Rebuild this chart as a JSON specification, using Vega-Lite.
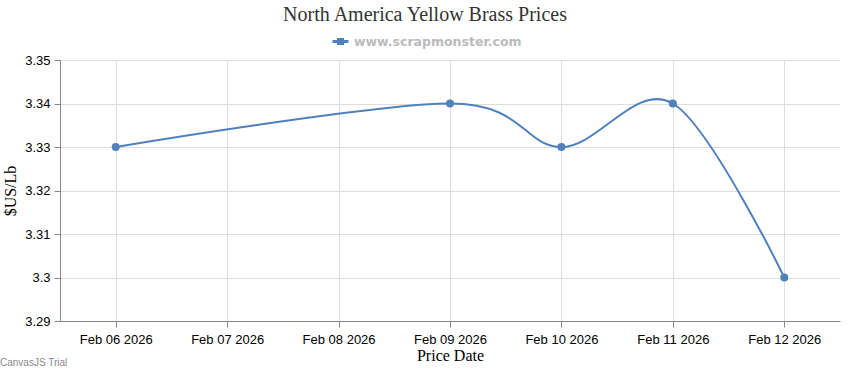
{
  "$schema": "https://vega.github.io/schema/vega-lite/v6.json",
  "width": 780,
  "height": 261,
  "autosize": {"type": "none"},
  "padding": {"left": 60, "top": 60, "right": 10, "bottom": 49},
  "background": "white",
  "title": {
    "text": "North America Yellow Brass Prices",
    "font": "Liberation Serif",
    "fontSize": 20,
    "fontWeight": "normal",
    "color": "#333333",
    "anchor": "middle",
    "dx": -25,
    "offset": 7
  },
  "data": {
    "values": [
      {"date": "2026-02-06", "price": 3.33, "series": "www.scrapmonster.com"},
      {"date": "2026-02-09", "price": 3.34, "series": "www.scrapmonster.com"},
      {"date": "2026-02-10", "price": 3.33, "series": "www.scrapmonster.com"},
      {"date": "2026-02-11", "price": 3.34, "series": "www.scrapmonster.com"},
      {"date": "2026-02-12", "price": 3.30, "series": "www.scrapmonster.com"}
    ]
  },
  "encoding": {
    "x": {
      "field": "date",
      "type": "temporal",
      "scale": {
        "type": "utc",
        "domain": [
          {"year": 2026, "month": 2, "date": 5, "hours": 12, "utc": true},
          {"year": 2026, "month": 2, "date": 12, "hours": 12, "utc": true}
        ]
      },
      "axis": {
        "title": "Price Date",
        "format": "%b %d %Y",
        "tickCount": {"interval": "day", "step": 1},
        "labelFont": "Liberation Sans",
        "labelFontSize": 13,
        "labelColor": "#000000",
        "labelPadding": 6,
        "titleFont": "Liberation Serif",
        "titleFontSize": 16,
        "titleFontWeight": "normal",
        "titleColor": "#000000",
        "titlePadding": 1,
        "domainColor": "#888888",
        "tickColor": "#888888",
        "tickSize": 6,
        "gridColor": "#dddddd",
        "labelFlush": false
      }
    },
    "y": {
      "field": "price",
      "type": "quantitative",
      "scale": {"domain": [3.29, 3.35], "nice": false, "zero": false},
      "axis": {
        "title": "$US/Lb",
        "values": [3.29, 3.30, 3.31, 3.32, 3.33, 3.34, 3.35],
        "format": ".2~f",
        "labelFont": "Liberation Sans",
        "labelFontSize": 13,
        "labelColor": "#000000",
        "labelPadding": 4,
        "titleFont": "Liberation Serif",
        "titleFontSize": 16,
        "titleFontWeight": "normal",
        "titleColor": "#000000",
        "titlePadding": 6,
        "domainColor": "#888888",
        "tickColor": "#888888",
        "tickSize": 6,
        "gridColor": "#dddddd"
      }
    }
  },
  "layer": [
    {
      "mark": {"type": "line", "interpolate": "cardinal", "tension": 0, "strokeWidth": 2},
      "encoding": {
        "color": {
          "field": "series",
          "type": "nominal",
          "scale": {"range": ["#4f81bc"]},
          "legend": {
            "title": null,
            "orient": "none",
            "legendX": 271,
            "legendY": -28,
            "symbolType": "M-1,0L1,0M-0.25,-0.25L0.25,-0.25L0.25,0.25L-0.25,0.25Z",
            "symbolSize": 256,
            "symbolStrokeWidth": 3,
            "symbolFillColor": "#4f81bc",
            "labelFont": "DejaVu Sans",
            "labelFontSize": 12.5,
            "labelFontWeight": "bold",
            "labelColor": "#bbbbbb",
            "labelOffset": 4,
            "labelLimit": 400
          }
        }
      }
    },
    {
      "mark": {"type": "point", "filled": true, "size": 64, "opacity": 1, "color": "#4f81bc"}
    },
    {
      "data": {"values": [{"label": "CanvasJS Trial", "date": "2026-02-05T12:00:00Z", "price": 3.29}]},
      "mark": {
        "type": "text",
        "align": "left",
        "baseline": "middle",
        "dx": -60,
        "dy": 42,
        "font": "Liberation Sans",
        "fontSize": 10,
        "color": "#888888",
        "clip": false
      },
      "encoding": {
        "text": {"field": "label"}
      }
    }
  ],
  "config": {
    "view": {"stroke": null},
    "axis": {"grid": true}
  }
}
